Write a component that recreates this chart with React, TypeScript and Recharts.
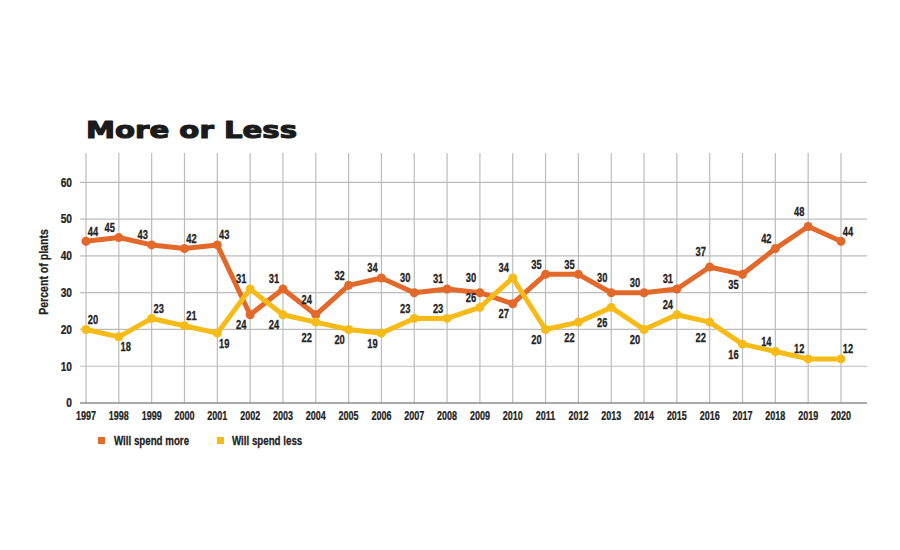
import React from 'react';
import { LineChart, Line, XAxis, YAxis, CartesianGrid, Legend } from 'recharts';

const years = ['1997','1998','1999','2000','2001','2002','2003','2004','2005','2006','2007','2008','2009','2010','2011','2012','2013','2014','2015','2016','2017','2018','2019','2020'];
const willSpendMore = [44,45,43,42,43,24,31,24,32,34,30,31,30,27,35,35,30,30,31,37,35,42,48,44];
const willSpendLess = [20,18,23,21,19,31,24,22,20,19,23,23,26,34,20,22,26,20,24,22,16,14,12,12];
const yTicks = [0,10,20,30,40,50,60];
const seriesNames = ['Will spend more', 'Will spend less'];

// label placement: u/d = above/below (upper-case = further away), l/r = left/right of the point
const moreLabelSide = ['ur','ul','ul','ur','ur','dl','ul','Ul','ul','ul','Ul','ul','Ul','dl','ul','ul','Ul','ul','ul','Ul','dl','ul','Ul','ur'];
const lessLabelSide = ['ur','dr','ur','ur','dr','ul','dl','Dl','dl','dl','ul','ul','ul','ul','dl','Dl','Dl','dl','ul','Dl','dl','ul','ul','ur'];

const ORANGE = '#E2692A';
const YELLOW = '#F6BB17';
const INK = '#222';
const FONT = "'Liberation Sans', Arial, sans-serif";

const data = years.map((y, i) => ({ year: y, more: willSpendMore[i], less: willSpendLess[i] }));

const Narrow = ({ x, y, sx, size, anchor, rotate, children }: any) => (
  <g transform={`translate(${x},${y})${rotate ? ` rotate(${rotate})` : ''}`}>
    <text
      transform={`scale(${sx},1)`}
      textAnchor={anchor || 'middle'}
      dominantBaseline="central"
      fontFamily={FONT}
      fontWeight={700}
      fontSize={size}
      fill={INK}
      stroke={INK}
      strokeWidth={0.25}
    >
      {children}
    </text>
  </g>
);

const makeLabel = (sides: string[]) => (props: any) => {
  const { x, y, value, index } = props;
  const side = sides[index] || 'ur';
  const dx = side[1] === 'l' ? -9 : 7;
  const far = side[0] === 'U' || side[0] === 'D';
  const up = side[0] === 'u' || side[0] === 'U';
  const dy = (up ? -1 : 1) * (far ? 15 : 10);
  return (
    <Narrow key={`l-${index}`} x={x + dx} y={y + dy} sx={0.78} size={12}>
      {value}
    </Narrow>
  );
};

const XTick = (props: any) => {
  const { x, y, payload } = props;
  return <Narrow x={x} y={y + 4.5} sx={0.72} size={12.5}>{payload.value}</Narrow>;
};

const YTick = (props: any) => {
  const { x, y, payload } = props;
  return <Narrow x={x} y={y} sx={0.85} size={12} anchor="end">{payload.value}</Narrow>;
};

const renderLegend = () => (
  <svg width={320} height={20}>
    <rect x={3} y={4} width={7} height={7} fill={ORANGE} />
    <Narrow x={19} y={8} sx={0.78} size={12.5} anchor="start">{seriesNames[0]}</Narrow>
    <rect x={122} y={4} width={7} height={7} fill={YELLOW} />
    <Narrow x={137} y={8} sx={0.78} size={12.5} anchor="start">{seriesNames[1]}</Narrow>
  </svg>
);

export default function App() {
  return (
    <div style={{ position: 'absolute', left: 0, top: 0, width: 900, height: 550, background: '#fff' }}>
      <svg width={900} height={150} style={{ position: 'absolute', left: 0, top: 0 }}>
        <text
          x={86}
          y={138}
          fontFamily="'DejaVu Sans', sans-serif"
          fontWeight={700}
          fontSize={22.5}
          fill="#1b1b1b"
          stroke="#1b1b1b"
          strokeWidth={1.1}
          strokeLinejoin="round"
          textLength={211}
          lengthAdjust="spacingAndGlyphs"
        >
          More or Less
        </text>
      </svg>
      <div style={{ position: 'absolute', left: 0, top: 0 }}>
        <LineChart
          width={900}
          height={550}
          data={data}
          margin={{ top: 153, right: 33, left: 40, bottom: 97 }}
        >
          <CartesianGrid
            stroke="#bcbcbc"
            strokeWidth={1.2}
            horizontalValues={yTicks.filter((t) => t > 0)}
            verticalValues={years}
          />
          <XAxis
            dataKey="year"
            interval={0}
            padding={{ left: 6, right: 26 }}
            tickLine={false}
            axisLine={{ stroke: '#8c8c8c', strokeWidth: 1.3 }}
            tick={<XTick />}
            tickMargin={2}
            height={30}
          />
          <YAxis
            domain={[0, 68]}
            ticks={yTicks}
            interval={0}
            allowDataOverflow
            tickLine={false}
            axisLine={false}
            width={40}
            tick={<YTick />}
            label={{
              content: (p: any) => {
                const vb = p.viewBox || { x: 40, y: 153, width: 40, height: 250 };
                const cx = vb.x + 4;
                const cy = vb.y + vb.height / 2 - 6;
                return (
                  <Narrow x={cx} y={cy} rotate={-90} sx={0.88} size={12}>
                    Percent of plants
                  </Narrow>
                );
              },
            }}
          />
          <Legend
            content={renderLegend}
            wrapperStyle={{ position: 'absolute', left: 95, top: 433, width: 320, height: 20 }}
          />
          <Line
            type="linear"
            dataKey="more"
            name={seriesNames[0]}
            stroke={ORANGE}
            strokeWidth={5}
            strokeLinejoin="round"
            dot={{ r: 4.5, fill: ORANGE, stroke: ORANGE, strokeWidth: 0 }}
            activeDot={false}
            label={makeLabel(moreLabelSide)}
            isAnimationActive={false}
          />
          <Line
            type="linear"
            dataKey="less"
            name={seriesNames[1]}
            stroke={YELLOW}
            strokeWidth={5}
            strokeLinejoin="round"
            dot={{ r: 4.5, fill: YELLOW, stroke: YELLOW, strokeWidth: 0 }}
            activeDot={false}
            label={makeLabel(lessLabelSide)}
            isAnimationActive={false}
          />
        </LineChart>
      </div>
    </div>
  );
}
